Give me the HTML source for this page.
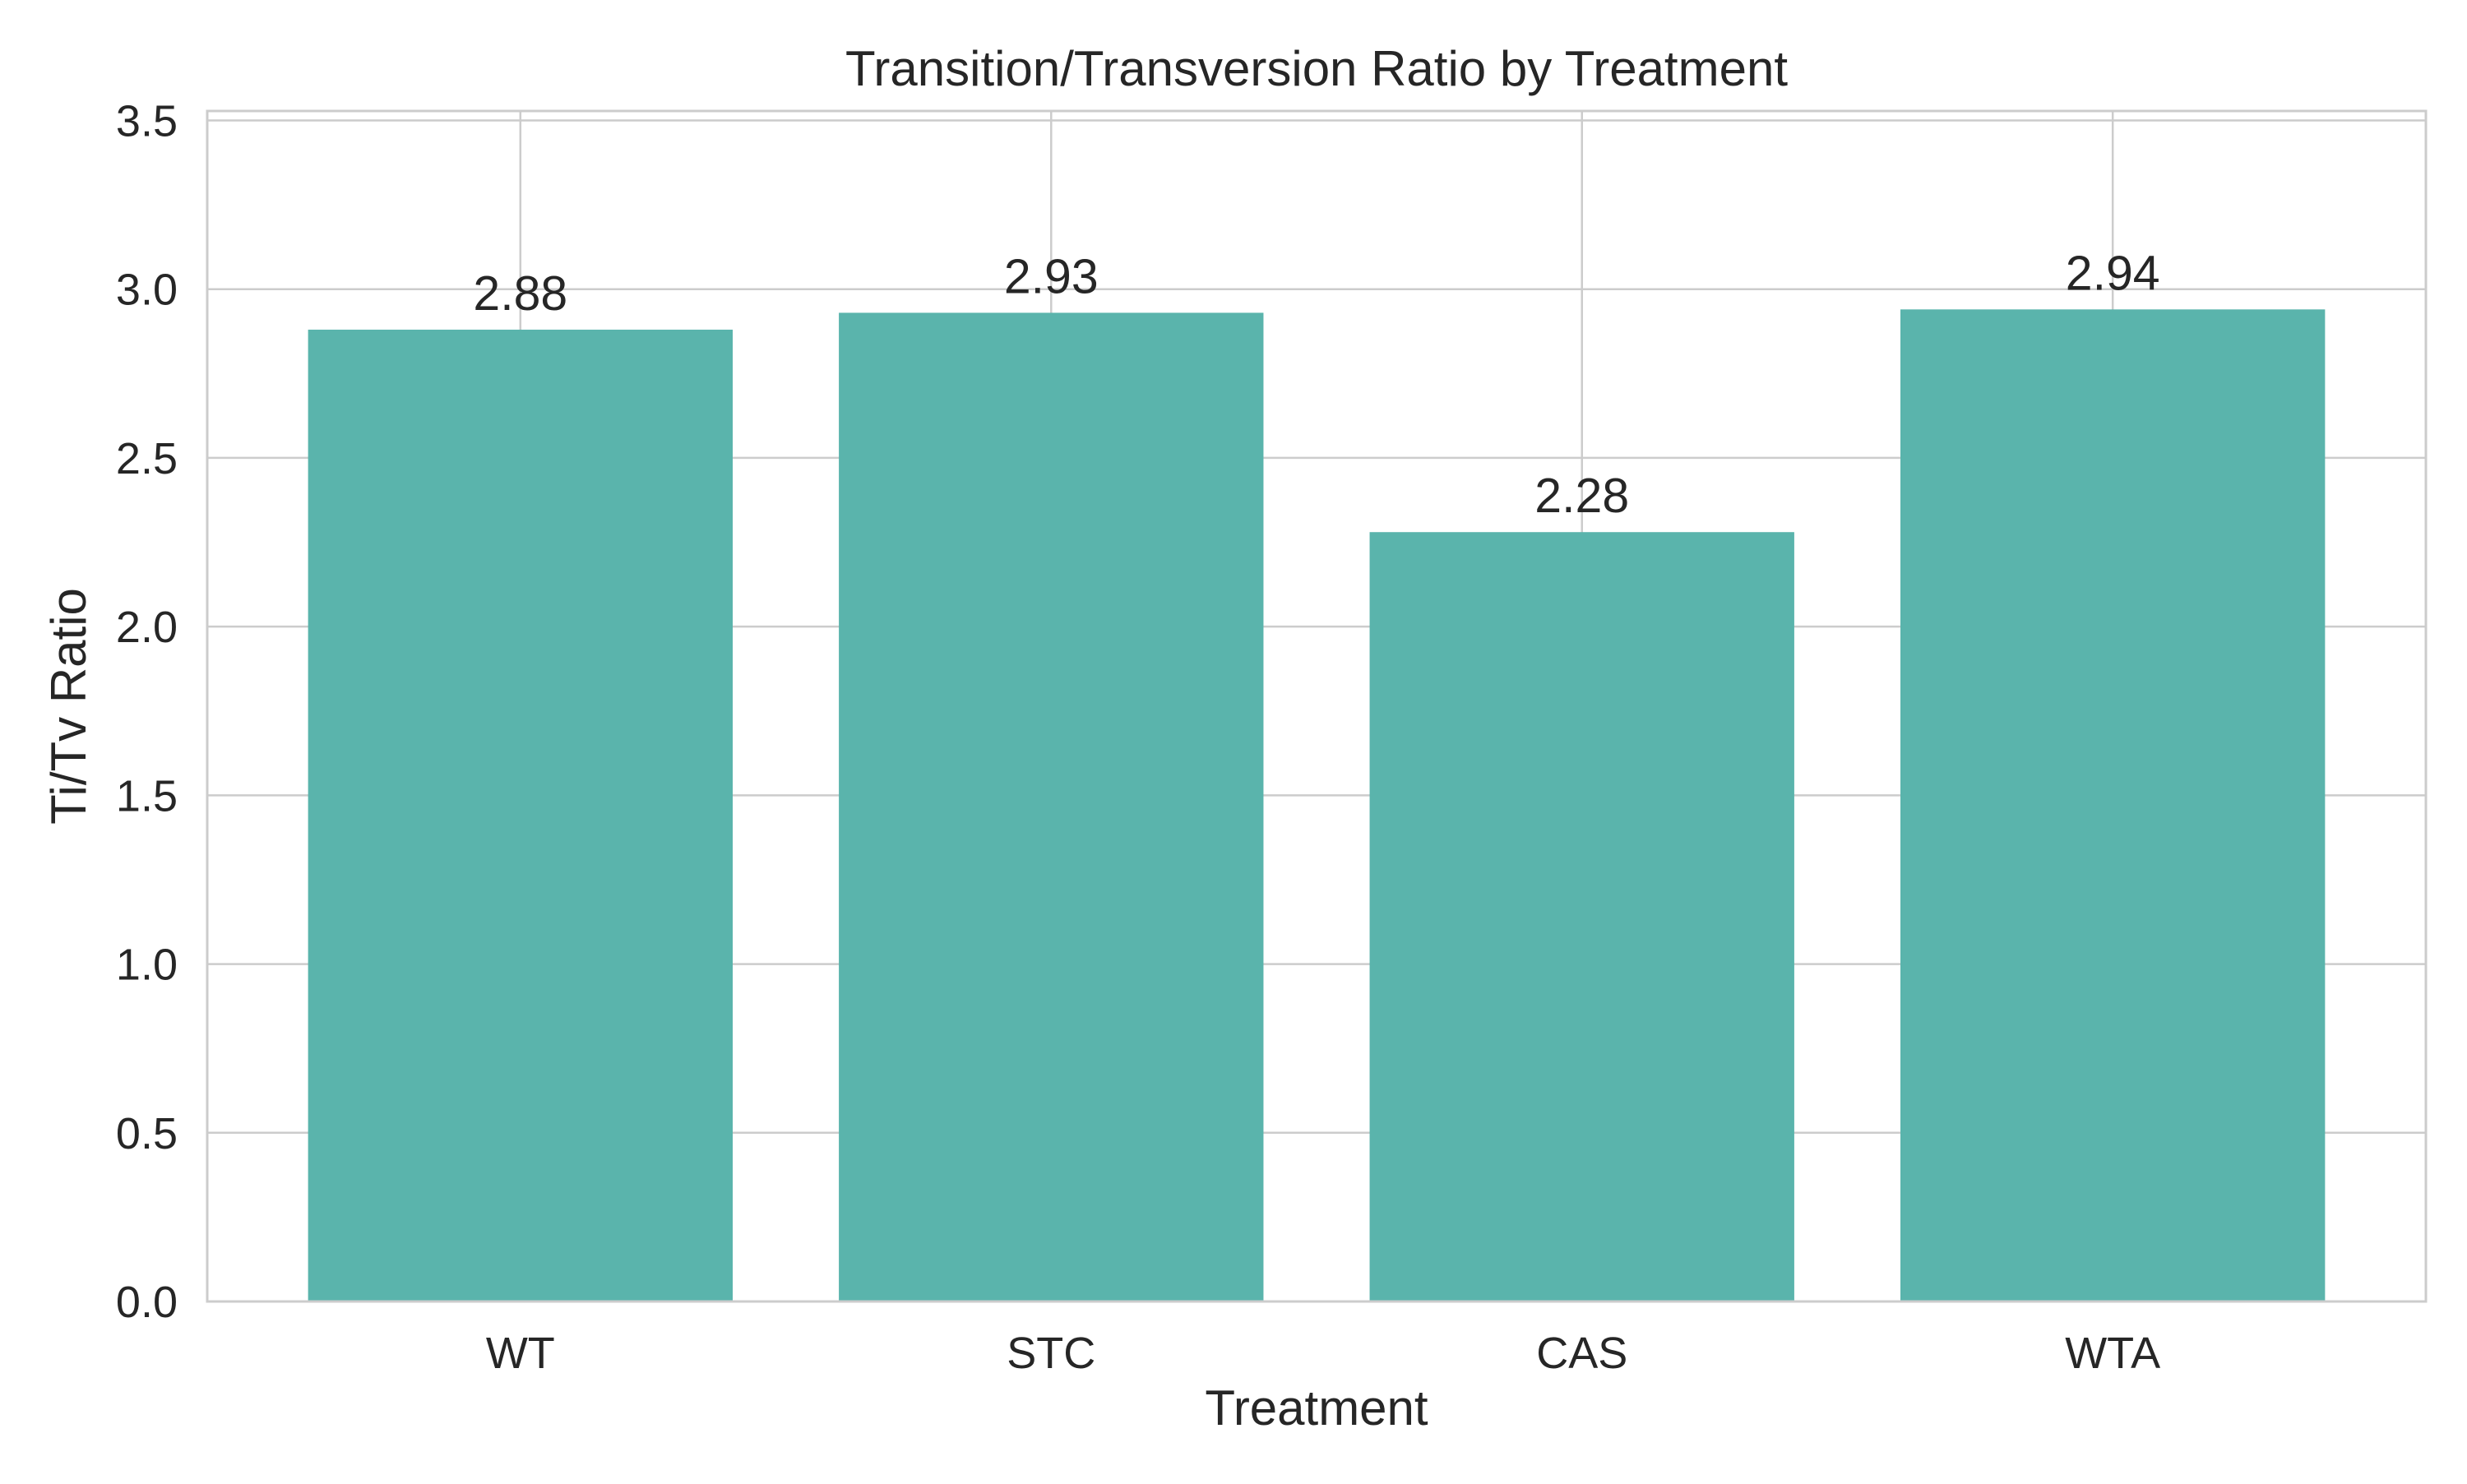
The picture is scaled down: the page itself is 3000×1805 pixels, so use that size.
<!DOCTYPE html>
<html><head><meta charset="utf-8"><style>
body{margin:0;background:#fff}
svg text{font-family:"Liberation Sans",Arial,sans-serif;fill:#262626}
</style></head><body>
<svg id="chart" width="3000" height="1800" xmlns="http://www.w3.org/2000/svg">
<rect width="3000" height="1800" fill="#fff"/>
<g id="grid"></g><g id="bars"></g><g id="labels"></g>
<text x="1601" y="104" text-anchor="middle" font-size="60">Transition/Transversion Ratio by Treatment</text>
<text x="1601" y="1733" text-anchor="middle" font-size="60">Treatment</text>
<text transform="translate(104,859) rotate(-90)" text-anchor="middle" font-size="60">Ti/Tv Ratio</text>
</svg>
<script>
const categories = ["WT","STC","CAS","WTA"];
const values = [2.88,2.93,2.28,2.94];
const labels = ["2.88","2.93","2.28","2.94"];
const yTicks = [0,0.5,1.0,1.5,2.0,2.5,3.0,3.5];
const yTickLabels = ["0.0","0.5","1.0","1.5","2.0","2.5","3.0","3.5"];

const L=252,R=2950,T=135,B=1583;
const ymax=Math.max(...values)*1.2;
const xmin=-0.59,xmax=categories.length-1+0.59;
const y=v=>B-(v/ymax)*(B-T);
const x=i=>L+(i-xmin)/(xmax-xmin)*(R-L);
const bw=0.8*(x(1)-x(0));
const NS="http://www.w3.org/2000/svg";
function mk(tag,attrs,parent,txt){const e=document.createElementNS(NS,tag);for(const k in attrs)e.setAttribute(k,attrs[k]);if(txt!==undefined)e.textContent=txt;parent.appendChild(e);return e;}
const grid=document.getElementById('grid'),bars=document.getElementById('bars'),lab=document.getElementById('labels');
yTicks.forEach((t,i)=>{
  const g=mk('line',{x1:L,x2:R,y1:y(t),y2:y(t),stroke:'#cccccc','stroke-width':2.5},grid);
  
  
  const tl=mk('text',{x:L-36,y:y(t)+19,'text-anchor':'end','font-size':54},lab,yTickLabels[i]);
  
  
});
categories.forEach((c,i)=>{
  const g=mk('line',{x1:x(i),x2:x(i),y1:T,y2:B,stroke:'#cccccc','stroke-width':2.5},grid);
  
  
  const b=mk('rect',{x:x(i)-bw/2,y:y(values[i]),width:bw,height:B-y(values[i]),fill:'#5ab4ac'},bars);
  
  
  const v=mk('text',{x:x(i),y:y(values[i])-24,'text-anchor':'middle','font-size':59},lab,labels[i]);
  
  
  const xt=mk('text',{x:x(i),y:1664,'text-anchor':'middle','font-size':54},lab,c);
  
  
});
const sp=mk('rect',{x:L,y:T,width:R-L,height:B-T,fill:'none',stroke:'#cccccc','stroke-width':3},lab);


</script>
</body></html>
